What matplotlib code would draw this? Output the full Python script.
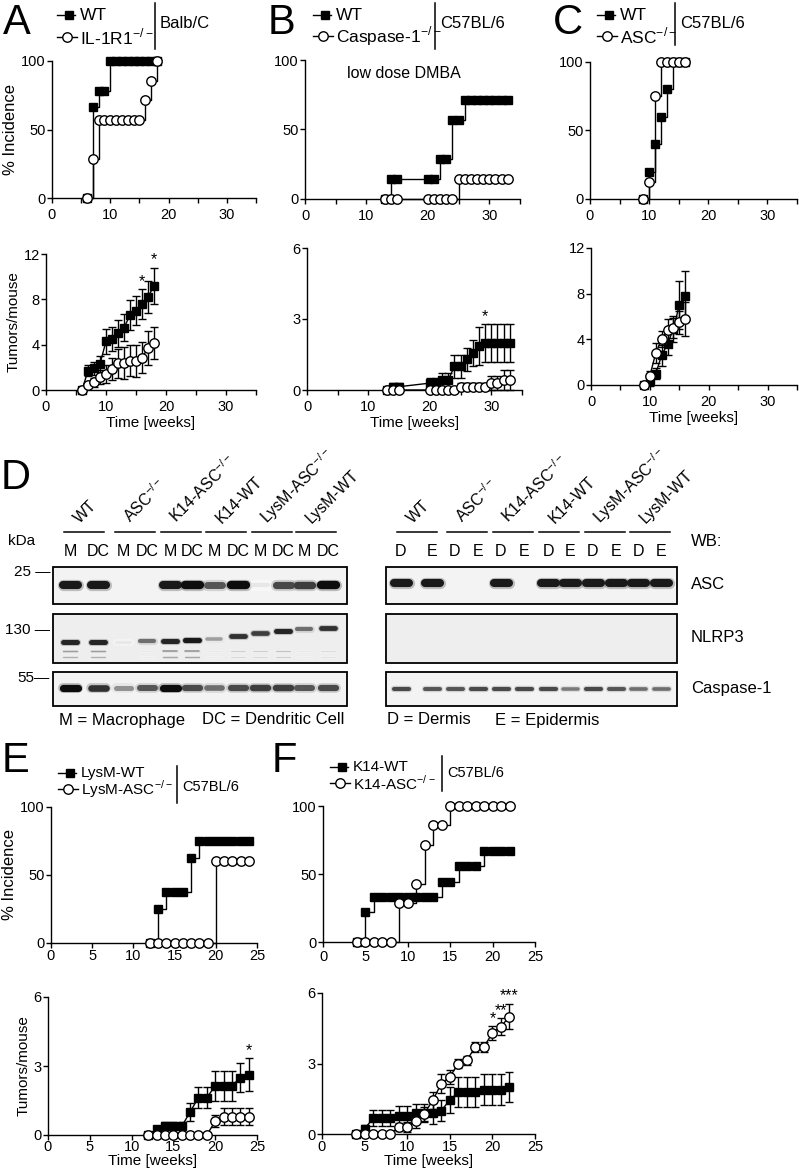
import numpy as np
import matplotlib
matplotlib.use('Agg')
import matplotlib.pyplot as plt
from matplotlib.patches import Rectangle

plt.rcParams['font.family'] = ['Liberation Sans', 'DejaVu Sans']
plt.rcParams['axes.linewidth'] = 1.0

# ---------------- data ----------------
# A: Balb/C, WT vs IL-1R1-/-
a_weeks = list(range(6, 19))
a_inc_wt = [0, 66.7, 77.8, 77.8, 100, 100, 100, 100, 100, 100, 100, 100, 100]
a_inc_ko = [0, 28.6, 57.1, 57.1, 57.1, 57.1, 57.1, 57.1, 57.1, 57.1, 71.4, 85.7, 100]
a_tum_wt = [0, 1.7, 1.9, 2.3, 4.3, 4.5, 5.0, 5.5, 6.6, 7.0, 7.6, 8.2, 9.2]
a_sem_wt = [0, 0.5, 0.6, 0.7, 1.1, 1.1, 1.2, 1.2, 1.3, 1.3, 1.3, 1.4, 1.6]
a_tum_ko = [0, 0.45, 0.7, 1.15, 1.4, 1.85, 2.35, 2.4, 2.6, 2.55, 2.85, 3.7, 4.15]
a_sem_ko = [0, 0.3, 0.4, 0.6, 0.8, 1.0, 1.3, 1.4, 1.4, 1.4, 1.35, 1.5, 1.4]
a_stars = {16: '*', 18: '*'}

# B: C57BL/6, WT vs Caspase-1-/-, low dose DMBA
b_weeks = [13, 14, 15] + list(range(20, 34))
b_inc_wt = [0, 14.3, 14.3, 14.3, 14.3, 28.6, 28.6, 57.1, 57.1] + [71.4] * 8
b_inc_ko = [0] * 8 + [14.3] * 9
b_tum_wt = [0, 0.14, 0.14, 0.29, 0.29, 0.43, 0.43, 1.0, 1.0, 1.29, 1.57, 1.86, 2.0, 2.0, 2.0, 2.0, 2.0]
b_sem_wt = [0, 0.14, 0.14, 0.2, 0.2, 0.3, 0.3, 0.5, 0.5, 0.5, 0.55, 0.8, 0.8, 0.8, 0.8, 0.8, 0.8]
b_tum_ko = [0] * 8 + [0.14] * 5 + [0.29, 0.29, 0.43, 0.43]
b_sem_ko = [0] * 8 + [0.14] * 5 + [0.3, 0.3, 0.43, 0.43]
b_stars = {29: '*'}

# C: C57BL/6, WT vs ASC-/-
c_weeks = list(range(9, 17))
c_inc_wt = [0, 20, 40, 60, 80, 100, 100, 100]
c_inc_ko = [0, 12.5, 75, 100, 100, 100, 100, 100]
c_tum_wt = [0, 0.45, 1.0, 2.6, 3.6, 4.9, 7.0, 7.8]
c_sem_wt = [0, 0.5, 0.5, 0.9, 1.0, 1.1, 2.1, 2.2]
c_tum_ko = [0, 0.8, 2.8, 4.0, 4.8, 5.0, 5.5, 5.8]
c_sem_ko = [0, 0.4, 0.9, 0.7, 1.0, 0.9, 1.0, 1.5]

# E: LysM-WT vs LysM-ASC-/-
e_weeks = list(range(12, 25))
e_inc_wt = [0, 25, 37.5, 37.5, 37.5, 62.5, 75, 75, 75, 75, 75, 75, 75]
e_inc_ko = [0] * 8 + [60] * 5
e_tum_wt = [0, 0.25, 0.38, 0.38, 0.38, 1.0, 1.63, 1.63, 2.13, 2.13, 2.13, 2.5, 2.63]
e_sem_wt = [0, 0.16, 0.18, 0.18, 0.18, 0.38, 0.45, 0.45, 0.65, 0.65, 0.65, 0.65, 0.7]
e_tum_ko = [0] * 8 + [0.6, 0.8, 0.8, 0.8, 0.8]
e_sem_ko = [0] * 8 + [0.25, 0.37, 0.37, 0.37, 0.37]
e_stars = {24: '*'}

# F: K14-WT vs K14-ASC-/-
f_weeks = list(range(4, 23))
f_inc_wt = [0, 22.2] + [33.3] * 8 + [44.4] * 2 + [55.6] * 3 + [66.7] * 4
f_inc_ko = [0] * 5 + [28.6, 28.6, 42.9, 71.4, 85.7, 85.7] + [100] * 8
f_tum_wt = [0, 0.22, 0.67, 0.67, 0.67, 0.78, 0.78, 0.89, 0.89, 0.89, 1.0, 1.44,
            1.78, 1.78, 1.78, 1.89, 1.89, 1.89, 2.0]
f_sem_wt = [0, 0.15, 0.35, 0.35, 0.35, 0.4, 0.4, 0.4, 0.4, 0.45, 0.45, 0.55,
            0.65, 0.65, 0.65, 0.65, 0.65, 0.65, 0.65]
f_tum_ko = [0] * 5 + [0.29, 0.29, 0.57, 0.86, 1.43, 2.14, 2.43, 3.0, 3.14, 3.71, 3.71, 4.29, 4.57, 5.0]
f_sem_ko = [0] * 5 + [0.18, 0.2, 0.3, 0.3, 0.35, 0.4, 0.3, 0.2, 0.2, 0.2, 0.2, 0.3, 0.35, 0.55]
f_stars = {20: '*', 21: '**', 22: '***'}

# D: western blots (relative band intensity per lane)
groups = ['WT', 'ASC$^{\\mathregular{-/-}}$', 'K14-ASC$^{\\mathregular{-/-}}$', 'K14-WT',
          'LysM-ASC$^{\\mathregular{-/-}}$', 'LysM-WT']
left_lane_names = ['M', 'DC'] * 6
right_lane_names = ['D', 'E'] * 6
left_asc = [0.95, 0.95, 0, 0, 0.95, 1.0, 0.7, 1.0, 0.1, 0.75, 0.8, 1.0]
left_nlrp3 = [0.9, 0.9, 0.1, 0.6, 0.9, 0.95, 0.4, 0.85, 0.8, 0.9, 0.6, 0.85]
left_nlrp3_shift = [0, 0, 0, 1, 1, 2, 3, 6, 9, 11, 13, 14]
left_nlrp3_minor = [0.4, 0.4, 0, 0.1, 0.45, 0.45, 0.1, 0.2, 0.2, 0.25, 0.1, 0.15]
left_casp = [1.0, 0.85, 0.45, 0.7, 1.0, 0.75, 0.6, 0.75, 0.8, 0.8, 0.7, 0.75]
right_asc = [0.95, 0.95, 0, 0, 0.95, 0, 0.95, 0.95, 0.95, 0.95, 0.95, 0.95]
right_nlrp3 = [0] * 12
right_casp = [0.75, 0.7, 0.7, 0.75, 0.75, 0.75, 0.75, 0.55, 0.75, 0.7, 0.6, 0.6]

# ---------------- layout ----------------
W, H = 799, 1176
fig = plt.figure(figsize=(W / 100, H / 100), dpi=100)
fig.patch.set_facecolor('white')

ov = fig.add_axes([0, 0, 1, 1])
ov.set_xlim(0, W)
ov.set_ylim(H, 0)
ov.axis('off')

MS_SQ = 6.3
MS_CI = 6.8


def px_axes(l, r, t, b):
    return fig.add_axes([l / W, 1 - b / H, (r - l) / W, (b - t) / H])


def style(ax, xmax, ymax, yticks, xlab_every, xpad):
    ax.set_xlim(0, xmax)
    ax.set_ylim(0, ymax)
    for s in ['top', 'right']:
        ax.spines[s].set_visible(False)
    ax.set_yticks(yticks)
    xt = np.arange(0, xmax + 0.1, 5)
    ax.set_xticks(xt)
    ax.set_xticklabels([('%d' % v if v % xlab_every == 0 else '') for v in xt])
    ax.tick_params(direction='out', length=3.5, width=1, labelsize=10.5, colors='k')
    ax.tick_params(axis='y', pad=1)
    ax.tick_params(axis='x', pad=xpad)
    ax.patch.set_alpha(0)


def incidence(ax, x, wt, ko):
    ax.plot(x, wt, drawstyle='steps-post', color='k', lw=1, marker='s', ms=MS_SQ,
            mfc='k', mec='k', clip_on=False, zorder=3)
    ax.plot(x, ko, drawstyle='steps-post', color='k', lw=1, marker='o', ms=MS_CI,
            mfc='white', mec='k', mew=1, clip_on=False, zorder=4)


def tumors(ax, x, wt, swt, ko, sko, stars=None, star_series=None):
    ax.errorbar(x, wt, yerr=swt, fmt='none', ecolor='k', elinewidth=1, capsize=3,
                capthick=1, clip_on=False, zorder=2)
    ax.errorbar(x, ko, yerr=sko, fmt='none', ecolor='k', elinewidth=1, capsize=3,
                capthick=1, clip_on=False, zorder=2)
    ax.plot(x, wt, color='k', lw=1, marker='s', ms=MS_SQ, mfc='k', mec='k',
            clip_on=False, zorder=3)
    ax.plot(x, ko, color='k', lw=1, marker='o', ms=MS_CI, mfc='white', mec='k',
            mew=1, clip_on=False, zorder=4)
    if stars:
        vals, errs = star_series
        for wk, s in stars.items():
            i = x.index(wk)
            top = vals[i] + errs[i]
            ax.annotate(s, (wk, top), xytext=(0, 0), textcoords='offset points',
                        ha='center', va='bottom', fontsize=11.5)


def legend(x, y1, y2, lab1, lab2, sep_x, sep_t, sep_b, strain, strain_y, fs=12.5):
    ov.plot([x, x + 18], [y1, y1], color='k', lw=1)
    ov.plot([x + 12], [y1], marker='s', ms=MS_SQ, color='k')
    ov.plot([x, x + 20], [y2, y2], color='k', lw=1)
    ov.plot([x + 10], [y2], marker='o', ms=MS_CI, mfc='white', mec='k', mew=1)
    ov.text(x + 23, y1, lab1, fontsize=fs, va='center', ha='left')
    ov.text(x + 23, y2, lab2, fontsize=fs, va='center', ha='left')
    ov.plot([sep_x, sep_x], [sep_t, sep_b], color='k', lw=1.1)
    ov.text(sep_x + 5, strain_y, strain, fontsize=fs - 0.5, va='center', ha='left')


ko = '$^{\\mathregular{-/-}}$'
LETTER = 30

# ---- panel A ----
ax = px_axes(52, 256, 61, 198)
incidence(ax, a_weeks, a_inc_wt, a_inc_ko)
style(ax, 35, 100, [0, 50, 100], 10, 3.5)
ax.set_ylabel('% Incidence', fontsize=12, labelpad=2)
ax = px_axes(46, 256, 254, 390)
tumors(ax, a_weeks, a_tum_wt, a_sem_wt, a_tum_ko, a_sem_ko, a_stars, (a_tum_wt, a_sem_wt))
style(ax, 35, 12, [0, 4, 8, 12], 10, 3.5)
ax.set_ylabel('Tumors/mouse', fontsize=11, labelpad=2)
ax.set_xlabel('Time [weeks]', fontsize=11, labelpad=2)
ov.text(3, 34, 'A', fontsize=LETTER, ha='left', va='baseline')
legend(57, 15, 37, 'WT', 'IL-1R1' + ko, 155, 3, 49, 'Balb/C', 24)

# ---- panel B ----
ax = px_axes(305, 520, 60, 199)
incidence(ax, b_weeks, b_inc_wt, b_inc_ko)
style(ax, 35, 100, [0, 50, 100], 10, 3.5)
ax.text(0.46, 0.9, 'low dose DMBA', transform=ax.transAxes, fontsize=11.5,
        ha='center', va='center')
ax = px_axes(307, 522, 248, 390)
tumors(ax, b_weeks, b_tum_wt, b_sem_wt, b_tum_ko, b_sem_ko, b_stars, (b_tum_wt, b_sem_wt))
style(ax, 35, 6, [0, 3, 6], 10, 3.5)
ax.set_xlabel('Time [weeks]', fontsize=11, labelpad=2)
ov.text(268, 34, 'B', fontsize=LETTER, ha='left', va='baseline')
legend(313, 15, 36, 'WT', 'Caspase-1' + ko, 435, 3, 49, 'C57BL/6', 23)

# ---- panel C ----
ax = px_axes(590, 797, 62, 199)
incidence(ax, c_weeks, c_inc_wt, c_inc_ko)
style(ax, 35, 100, [0, 50, 100], 10, 3.5)
ax = px_axes(591, 797, 248, 385)
tumors(ax, c_weeks, c_tum_wt, c_sem_wt, c_tum_ko, c_sem_ko)
style(ax, 35, 12, [0, 4, 8, 12], 10, 3.5)
ax.set_xlabel('Time [weeks]', fontsize=11, labelpad=2)
ov.text(553, 34, 'C', fontsize=LETTER, ha='left', va='baseline')
legend(597, 15, 36, 'WT', 'ASC' + ko, 675, 3, 45, 'C57BL/6', 23)

# ---- panel E ----
ax = px_axes(51, 257, 807, 943)
incidence(ax, e_weeks, e_inc_wt, e_inc_ko)
style(ax, 25, 100, [0, 50, 100], 5, 1)
ax.set_ylabel('% Incidence', fontsize=12, labelpad=2)
ax = px_axes(48, 257, 997, 1135)
tumors(ax, e_weeks, e_tum_wt, e_sem_wt, e_tum_ko, e_sem_ko, e_stars, (e_tum_wt, e_sem_wt))
style(ax, 25, 6, [0, 3, 6], 5, 0)
ax.set_ylabel('Tumors/mouse', fontsize=11, labelpad=2)
ax.set_xlabel('Time [weeks]', fontsize=11, labelpad=0)
ov.text(2, 772, 'E', fontsize=LETTER, ha='left', va='baseline')
legend(58, 773, 789, 'LysM-WT', 'LysM-ASC' + ko, 177, 766, 803, 'C57BL/6', 787, fs=11)

# ---- panel F ----
ax = px_axes(323, 535, 806, 942)
incidence(ax, f_weeks, f_inc_wt, f_inc_ko)
style(ax, 25, 100, [0, 50, 100], 5, 2)
ax = px_axes(322, 535, 993, 1134)
tumors(ax, f_weeks, f_tum_wt, f_sem_wt, f_tum_ko, f_sem_ko, f_stars, (f_tum_ko, f_sem_ko))
style(ax, 25, 6, [0, 3, 6], 5, 1)
ax.set_xlabel('Time [weeks]', fontsize=11, labelpad=0)
ov.text(272, 772, 'F', fontsize=LETTER, ha='left', va='baseline')
legend(330, 767, 783, 'K14-WT', 'K14-ASC' + ko, 442, 756, 791, 'C57BL/6', 773, fs=11)

# ---- panel D: western blots ----
ov.text(1, 489, 'D', fontsize=LETTER, ha='left', va='baseline')

left_x = [70, 98, 123, 147, 170, 192, 214, 238, 260, 283, 304, 328]
right_x = [401, 432, 455, 478, 501, 524, 548, 570, 593, 616, 638, 661]
boxes_left = (53, 347)
boxes_right = (386, 677)
rows = {'ASC': (567, 604), 'NLRP3': (614, 663), 'Caspase-1': (672, 706)}
row_bg = {'ASC': '#f3f3f3', 'NLRP3': '#eeeeee', 'Caspase-1': '#f3f3f3'}


def band(cx, y, v, hw, thick):
    if v <= 0:
        return
    g = 1 - 0.95 * v
    ov.plot([cx - hw, cx + hw], [y, y], color=str(min(1, g + 0.25)), lw=thick * 1.35,
            alpha=0.35, solid_capstyle='round', zorder=3)
    ov.plot([cx - hw, cx + hw], [y, y], color=str(g), lw=thick * (0.45 + 0.55 * v),
            solid_capstyle='round', zorder=4)


for (x0, x1) in [boxes_left, boxes_right]:
    for name, (t, b) in rows.items():
        ov.add_patch(Rectangle((x0, t), x1 - x0, b - t, fc=row_bg[name], ec='k',
                               lw=1.3, zorder=2))

for i, cx in enumerate(left_x):
    band(cx, 585, left_asc[i], 7.5, 6.0)
    band(cx, 642 - left_nlrp3_shift[i], left_nlrp3[i], 7, 3.8)
    band(cx, 651, left_nlrp3_minor[i], 7, 1.6)
    band(cx, 657, left_nlrp3_minor[i] * 0.8, 7, 1.6)
    band(cx, 688, left_casp[i], 7.5, 5.2)
    ov.text(cx, 552, left_lane_names[i], fontsize=11.5, ha='center', va='center')

for i, cx in enumerate(right_x):
    band(cx, 583, right_asc[i], 7.5, 6.0)
    band(cx, 640, right_nlrp3[i], 7, 3.5)
    band(cx, 689, right_casp[i], 7.5, 3.4)
    ov.text(cx, 552, right_lane_names[i], fontsize=11.5, ha='center', va='center')

for lanes in [left_x, right_x]:
    for g, name in enumerate(groups):
        mid = (lanes[2 * g] + lanes[2 * g + 1]) / 2
        ov.plot([mid - 20, mid + 20], [532, 532], color='k', lw=1.1)
        ov.text(mid - 4, 524, name, fontsize=11.5, rotation=45, rotation_mode='anchor',
                ha='left', va='baseline')

ov.text(22, 541, 'kDa', fontsize=11, ha='center', va='center')
ov.text(50, 572, '25 \u2014', fontsize=11, ha='right', va='center')
ov.text(50, 630, '130 \u2014', fontsize=11, ha='right', va='center')
ov.text(50, 678, '55\u2014', fontsize=11, ha='right', va='center')

ov.text(691, 542, 'WB:', fontsize=12, ha='left', va='center')
for name, (t, b) in rows.items():
    ov.text(691, (t + b) / 2 - 1, name, fontsize=12, ha='left', va='center')

ov.text(59, 720, 'M = Macrophage', fontsize=12, ha='left', va='center')
ov.text(202, 720, 'DC = Dendritic Cell', fontsize=12, ha='left', va='center')
ov.text(387, 720, 'D = Dermis', fontsize=12, ha='left', va='center')
ov.text(495, 720, 'E = Epidermis', fontsize=12, ha='left', va='center')

fig.savefig('out.png', dpi=100)
